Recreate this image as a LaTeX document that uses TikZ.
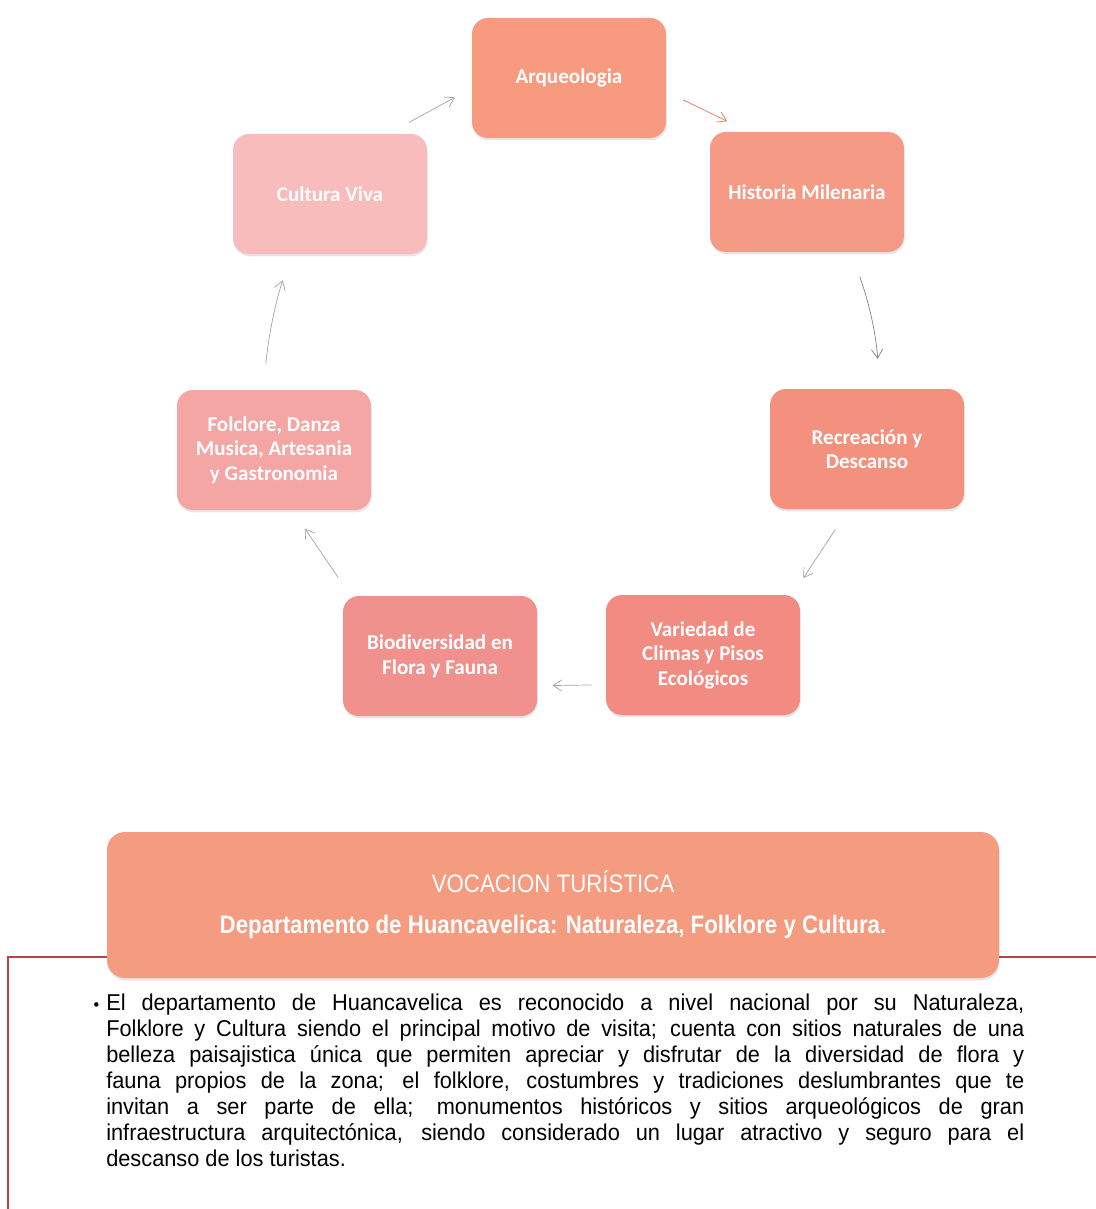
\documentclass[tikz,border=0pt]{standalone}
\usepackage{fontspec}
\setmainfont{Liberation Sans}
\newfontfamily\boxfont{Carlito}
\newfontfamily\narrowfont[FakeStretch=0.88]{Liberation Sans}
\newfontfamily\parafont[FakeStretch=0.95]{Liberation Sans}
\usetikzlibrary{arrows.meta,shadows}

\definecolor{arqcol}{HTML}{F79A80}
\definecolor{histcol}{HTML}{F59A84}
\definecolor{recrcol}{HTML}{F3917E}
\definecolor{varcol}{HTML}{F28B82}
\definecolor{biocol}{HTML}{F0918E}
\definecolor{folcol}{HTML}{F4A6A5}
\definecolor{cultcol}{HTML}{F8BCBD}
\definecolor{vocol}{HTML}{F59B80}
\definecolor{linkgray}{HTML}{A4A4A4}
\definecolor{linkorange}{HTML}{E8785A}
\definecolor{framered}{HTML}{B8404C}

\tikzset{
  stage/.style={rectangle, rounded corners=0.4cm, minimum width=4.85cm, minimum height=3.0cm,
    text=white, align=center, font=\boxfont\bfseries\fontsize{15}{17.5}\selectfont,
    drop shadow={opacity=0.2, shadow xshift=0.4pt, shadow yshift=-1.6pt}},
  banner/.style={rectangle, rounded corners=0.45cm, minimum width=22.3cm, minimum height=3.65cm,
    fill=vocol, text=white, align=center, font=\narrowfont\fontsize{18}{21}\selectfont,
    drop shadow={opacity=0.2, shadow xshift=0.4pt, shadow yshift=-1.8pt}},
  link/.style={draw=linkgray, line width=0.5pt, -{Straight Barb[length=2.2mm,width=2.8mm]}},
  frame/.style={draw=framered, line width=0.8pt}
}

\begin{document}
\begin{tikzpicture}
  \useasboundingbox (0,0) rectangle (27.4,-30.225);

  %% ciclo de atractivos
  \node[stage, fill=arqcol]  (arq)  at (14.225,-1.95)  {Arqueologia};
  \node[stage, fill=histcol] (hist) at (20.175,-4.8)   {Historia Milenaria};
  \node[stage, fill=recrcol] (recr) at (21.675,-11.225) {Recreación y\\Descanso};
  \node[stage, fill=varcol]  (var)  at (17.575,-16.375) {Variedad de\\Climas y Pisos\\Ecológicos};
  \node[stage, fill=biocol]  (bio)  at (11.0,-16.4)    {Biodiversidad en\\Flora y Fauna};
  \node[stage, fill=folcol]  (folk) at (6.85,-11.25)   {Folclore, Danza\\Musica, Artesania\\y Gastronomia};
  \node[stage, fill=cultcol] (cult) at (8.25,-4.85)    {Cultura Viva};

  \draw[link, draw=linkorange, shorten <=0.47cm, shorten >=0.6cm] (arq.352) -- (hist.134);
  \draw[link, draw=linkgray!80!black, shorten <=0.65cm, shorten >=0.75cm] (hist.306) to[bend left=8] (recr.78);
  \draw[link, shorten <=0.6cm, shorten >=0.5cm] (recr.253) -- (var.34);
  \draw[link, shorten <=0.35cm, shorten >=0.38cm] (var.197) -- (bio.343);
  \draw[link, shorten <=0.55cm, shorten >=0.55cm] (bio.146) -- (folk.287);
  \draw[link, shorten <=0.65cm, shorten >=0.68cm] (folk.100) to[bend left=6] (cult.237);
  \draw[link, shorten <=0.59cm, shorten >=0.48cm] (cult.46) -- (arq.186);

  %% recuadro inferior
  \draw[frame] (0.2,-30.4) -- (0.2,-23.925) -- (27.6,-23.925);
  \node[banner] (voc) at (13.825,-22.625)
    {VOCACION TURÍSTICA\\[8pt]{\bfseries Departamento de Huancavelica: Naturaleza, Folklore y Cultura.}};

  \node[anchor=north west, inner sep=0pt, text width=22.95cm, align=justify,
    font=\parafont\fontsize{16.3}{18.4}\selectfont] (texto) at (2.65,-24.85)
    {\llap{{\fontsize{12}{12}\selectfont\textbullet}\hspace{5pt}}El departamento de Huancavelica es reconocido a nivel nacional por su Naturaleza,\linebreak
     Folklore y Cultura siendo el principal motivo de visita; cuenta con sitios naturales de una\linebreak
     belleza paisajistica única que permiten apreciar y disfrutar de la diversidad de flora y\linebreak
     fauna propios de la zona; el folklore, costumbres y tradiciones deslumbrantes que te\linebreak
     invitan a ser parte de ella; monumentos históricos y sitios arqueológicos de gran\linebreak
     infraestructura arquitectónica, siendo considerado un lugar atractivo y seguro para el\linebreak
     descanso de los turistas.};
\end{tikzpicture}
\end{document}
